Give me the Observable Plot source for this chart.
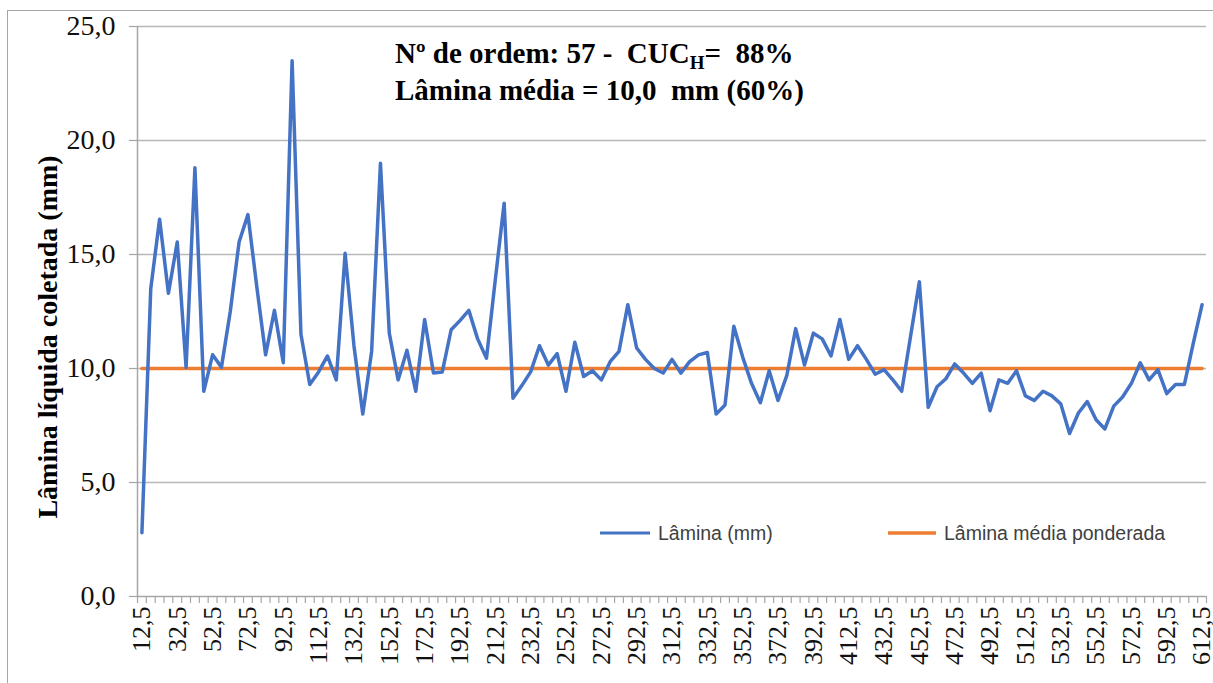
<!DOCTYPE html>
<html>
<head>
<meta charset="utf-8">
<script src="https://cdn.jsdelivr.net/npm/d3@7"></script>
<script src="https://cdn.jsdelivr.net/npm/@observablehq/plot@0.6"></script>
<style>
  html, body { margin: 0; padding: 0; background: #fff; }
  #wrap { position: relative; width: 1213px; height: 683px; overflow: hidden; background: #fff; }
  #border { position: absolute; left: 7px; top: 10px; width: 1230px; height: 700px; border: 1.5px solid #a6a6a6; box-sizing: border-box; }
  #wrap svg { position: absolute; left: 0; top: 0; }
</style>
</head>
<body>
<div id="wrap"><div id="border"></div></div>
<script>
// Categories (posição, m) along the lateral line
const categories = [
  12.5, 17.5, 22.5, 27.5, 32.5, 37.5, 42.5, 47.5, 52.5, 57.5,
  62.5, 67.5, 72.5, 77.5, 82.5, 87.5, 92.5, 97.5, 102.5, 107.5,
  112.5, 117.5, 122.5, 127.5, 132.5, 137.5, 142.5, 147.5, 152.5, 157.5,
  162.5, 167.5, 172.5, 177.5, 182.5, 187.5, 192.5, 197.5, 202.5, 207.5,
  212.5, 217.5, 222.5, 227.5, 232.5, 237.5, 242.5, 247.5, 252.5, 257.5,
  262.5, 267.5, 272.5, 277.5, 282.5, 287.5, 292.5, 297.5, 302.5, 307.5,
  312.5, 317.5, 322.5, 327.5, 332.5, 337.5, 342.5, 347.5, 352.5, 357.5,
  362.5, 367.5, 372.5, 377.5, 382.5, 387.5, 392.5, 397.5, 402.5, 407.5,
  412.5, 417.5, 422.5, 427.5, 432.5, 437.5, 442.5, 447.5, 452.5, 457.5,
  462.5, 467.5, 472.5, 477.5, 482.5, 487.5, 492.5, 497.5, 502.5, 507.5,
  512.5, 517.5, 522.5, 527.5, 532.5, 537.5, 542.5, 547.5, 552.5, 557.5,
  562.5, 567.5, 572.5, 577.5, 582.5, 587.5, 592.5, 597.5, 602.5, 607.5,
  612.5
];
// Lâmina (mm)
const lamina = [
  2.8, 13.5, 16.55, 13.3, 15.55, 10.05, 18.8, 9.0, 10.6, 10.05,
  12.5, 15.55, 16.75, 13.6, 10.6, 12.55, 10.25, 23.5, 11.5, 9.3,
  9.85, 10.55, 9.5, 15.05, 11.0, 8.0, 10.75, 19.0, 11.55, 9.5,
  10.8, 9.0, 12.15, 9.8, 9.85, 11.7, 12.1, 12.55, 11.3, 10.45,
  13.9, 17.25, 8.7, 9.25, 9.85, 11.0, 10.15, 10.65, 9.0, 11.15,
  9.65, 9.9, 9.5, 10.3, 10.75, 12.8, 10.9, 10.4, 10.0, 9.8,
  10.4, 9.8, 10.3, 10.6, 10.7, 8.0, 8.4, 11.85, 10.5, 9.35,
  8.5, 9.9, 8.6, 9.7, 11.75, 10.15, 11.55, 11.3, 10.55, 12.15,
  10.4, 11.0, 10.4, 9.75, 9.95, 9.5, 9.0, 11.4, 13.8, 8.3,
  9.2, 9.55, 10.2, 9.8, 9.35, 9.8, 8.15, 9.5, 9.35, 9.9,
  8.8, 8.6, 9.0, 8.8, 8.45, 7.15, 8.05, 8.55, 7.75, 7.35,
  8.35, 8.75, 9.35, 10.25, 9.5, 9.95, 8.9, 9.3, 9.3, 11.1,
  12.8
];
// Lâmina média ponderada (mm)
const mediaPonderada = 10.0;

const yTicks = [0, 5, 10, 15, 20, 25];
const xLabelTicks = [
  12.5, 32.5, 52.5, 72.5, 92.5, 112.5, 132.5, 152.5, 172.5, 192.5,
  212.5, 232.5, 252.5, 272.5, 292.5, 312.5, 332.5, 352.5, 372.5, 392.5,
  412.5, 432.5, 452.5, 472.5, 492.5, 512.5, 532.5, 552.5, 572.5, 592.5,
  612.5
];
// tick marks sit between categories
const xBoundaryTicks = categories.map(c => c - 2.5).concat([categories[categories.length - 1] + 2.5]);

const data = categories.map((c, i) => ({cat: c, lamina: lamina[i], media: mediaPonderada}));
const fmt = d => d.toFixed(1).replace(".", ",");

const serif = "Liberation Serif";
const gridColor = "#b8b8b8";
const axisColor = "#a6a6a6";

const chart = Plot.plot({
  width: 1213,
  height: 683,
  marginLeft: 137,
  marginRight: 7,
  marginTop: 26,
  marginBottom: 87,
  style: {background: "transparent", fontFamily: serif, overflow: "visible"},
  x: {domain: [10, 615]},
  y: {domain: [0, 25]},
  marks: [
    Plot.gridY(yTicks.filter(d => d > 0), {stroke: gridColor, strokeOpacity: 1, strokeWidth: 1.5}),
    Plot.ruleX([10], {stroke: axisColor, strokeWidth: 1.5}),
    Plot.ruleY([0], {stroke: axisColor, strokeWidth: 1.5}),
    Plot.axisY({ticks: yTicks, tickSize: 8, text: null, color: axisColor, strokeWidth: 1.2, label: null}),
    Plot.axisY({ticks: yTicks, tickSize: 0, tickPadding: 22, tickFormat: fmt, fontSize: 28, fontFamily: serif, color: "#111", label: null}),
    Plot.axisX({ticks: xBoundaryTicks, tickSize: 7, text: null, color: axisColor, strokeWidth: 1.2, label: null}),
    Plot.axisX({ticks: xLabelTicks, tickSize: 0, tickPadding: 10, tickRotate: -90, tickFormat: fmt, fontSize: 26, fontFamily: serif, color: "#111", label: null}),
    Plot.line(data, {x: "cat", y: "media", stroke: "#ED7D31", strokeWidth: 3.5}),
    Plot.line(data, {x: "cat", y: "lamina", stroke: "#4472C4", strokeWidth: 3.5, strokeLinejoin: "round"})
  ]
});

document.getElementById("wrap").appendChild(chart);

const svg = d3.select(chart);

// Y axis title
svg.append("text")
  .attr("transform", "translate(57,337) rotate(-90)")
  .attr("text-anchor", "middle")
  .attr("font-family", serif)
  .attr("font-weight", "bold")
  .attr("font-size", 28)
  .attr("fill", "#000")
  .text("Lâmina líquida coletada (mm)");

// Annotation
const ann = svg.append("g")
  .attr("text-anchor", "start")
  .attr("font-family", serif)
  .attr("font-weight", "bold")
  .attr("font-size", 29)
  .attr("fill", "#000")
  .style("white-space", "pre");
const l1 = ann.append("text").attr("x", 395).attr("y", 63);
l1.append("tspan").text("Nº de ordem: 57 -  CUC");
l1.append("tspan").attr("font-size", 19).attr("dy", 6).text("H");
l1.append("tspan").attr("dy", -6).text("=  88%");
ann.append("text").attr("x", 395).attr("y", 100).text("Lâmina média = 10,0  mm (60%)");

// Legend
const sans = "Liberation Sans";
const leg = svg.append("g").attr("text-anchor", "start").attr("font-family", sans).attr("font-size", 19.5).attr("fill", "#404040");
leg.append("line").attr("x1", 600).attr("x2", 650).attr("y1", 533).attr("y2", 533).attr("stroke", "#4472C4").attr("stroke-width", 3);
leg.append("text").attr("x", 658).attr("y", 540).text("Lâmina (mm)");
leg.append("line").attr("x1", 888).attr("x2", 936).attr("y1", 533).attr("y2", 533).attr("stroke", "#ED7D31").attr("stroke-width", 3.5);
leg.append("text").attr("x", 944).attr("y", 540).text("Lâmina média ponderada");
</script>
</body>
</html>
